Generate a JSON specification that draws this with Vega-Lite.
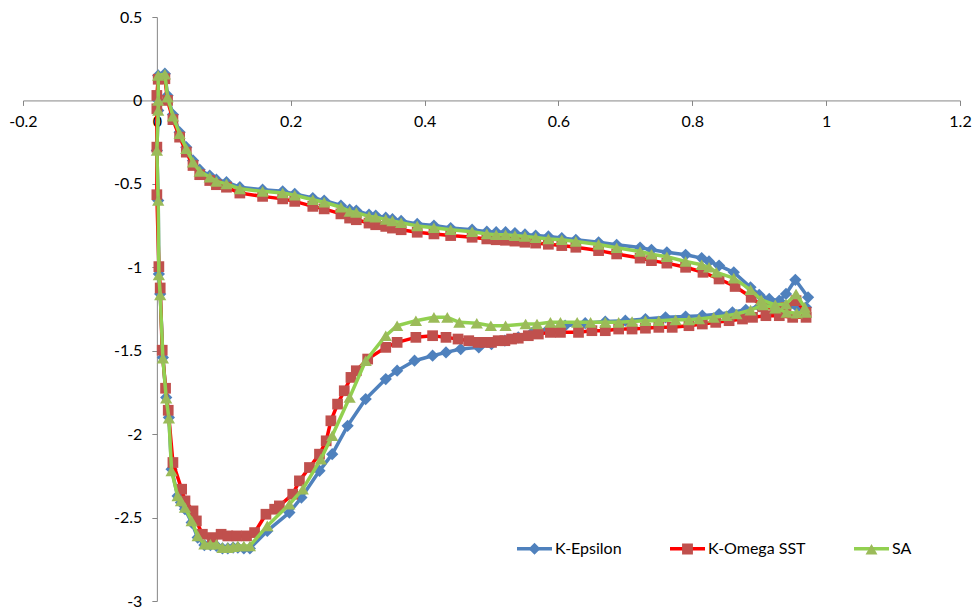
{
"$schema": "https://vega.github.io/schema/vega-lite/v6.json",
"width": 937, "height": 584,
"autosize": {"type": "none"},
"padding": {"left": 23, "top": 17, "right": 15, "bottom": 7},
"background": "white",
"config": {
  "view": {"stroke": null},
  "font": "Lato",
  "axis": {"domainColor": "#868686", "tickColor": "#868686", "domainWidth": 1, "tickWidth": 1, "tickSize": 5, "grid": false, "title": null, "labelFont": "Lato", "labelFontSize": 16, "labelColor": "#000000", "labelFlush": false, "labelOverlap": false, "labelBound": false}
},
"data": {"values": [
{"s":"KE","i":1,"x":0.973,"y":-1.18},{"s":"KE","i":2,"x":0.954,"y":-1.075},{"s":"KE","i":3,"x":0.94,"y":-1.16},{"s":"KE","i":4,"x":0.93,"y":-1.2},{"s":"KE","i":5,"x":0.915,"y":-1.19},{"s":"KE","i":6,"x":0.9,"y":-1.165},{"s":"KE","i":7,"x":0.887,"y":-1.12},{"s":"KE","i":8,"x":0.862,"y":-1.03},{"s":"KE","i":9,"x":0.84,"y":-0.99},{"s":"KE","i":10,"x":0.825,"y":-0.965},{"s":"KE","i":11,"x":0.814,"y":-0.945},{"s":"KE","i":12,"x":0.79,"y":-0.925},{"s":"KE","i":13,"x":0.762,"y":-0.91},{"s":"KE","i":14,"x":0.739,"y":-0.895},{"s":"KE","i":15,"x":0.722,"y":-0.882},{"s":"KE","i":16,"x":0.687,"y":-0.865},{"s":"KE","i":17,"x":0.66,"y":-0.85},{"s":"KE","i":18,"x":0.626,"y":-0.835},{"s":"KE","i":19,"x":0.605,"y":-0.825},{"s":"KE","i":20,"x":0.585,"y":-0.815},{"s":"KE","i":21,"x":0.566,"y":-0.81},{"s":"KE","i":22,"x":0.55,"y":-0.803},{"s":"KE","i":23,"x":0.535,"y":-0.795},{"s":"KE","i":24,"x":0.521,"y":-0.79},{"s":"KE","i":25,"x":0.507,"y":-0.79},{"s":"KE","i":26,"x":0.493,"y":-0.787},{"s":"KE","i":27,"x":0.471,"y":-0.775},{"s":"KE","i":28,"x":0.439,"y":-0.765},{"s":"KE","i":29,"x":0.414,"y":-0.75},{"s":"KE","i":30,"x":0.389,"y":-0.74},{"s":"KE","i":31,"x":0.365,"y":-0.722},{"s":"KE","i":32,"x":0.352,"y":-0.712},{"s":"KE","i":33,"x":0.342,"y":-0.703},{"s":"KE","i":34,"x":0.327,"y":-0.69},{"s":"KE","i":35,"x":0.317,"y":-0.685},{"s":"KE","i":36,"x":0.298,"y":-0.66},{"s":"KE","i":37,"x":0.288,"y":-0.655},{"s":"KE","i":38,"x":0.275,"y":-0.63},{"s":"KE","i":39,"x":0.25,"y":-0.6},{"s":"KE","i":40,"x":0.233,"y":-0.585},{"s":"KE","i":41,"x":0.206,"y":-0.56},{"s":"KE","i":42,"x":0.188,"y":-0.545},{"s":"KE","i":43,"x":0.158,"y":-0.535},{"s":"KE","i":44,"x":0.124,"y":-0.52},{"s":"KE","i":45,"x":0.104,"y":-0.49},{"s":"KE","i":46,"x":0.089,"y":-0.475},{"s":"KE","i":47,"x":0.079,"y":-0.45},{"s":"KE","i":48,"x":0.064,"y":-0.415},{"s":"KE","i":49,"x":0.054,"y":-0.36},{"s":"KE","i":50,"x":0.044,"y":-0.28},{"s":"KE","i":51,"x":0.034,"y":-0.19},{"s":"KE","i":52,"x":0.024,"y":-0.085},{"s":"KE","i":53,"x":0.016,"y":0.03},{"s":"KE","i":54,"x":0.012,"y":0.16},{"s":"KE","i":55,"x":0.002,"y":0.15},{"s":"KE","i":56,"x":0.002,"y":0.0},{"s":"KE","i":57,"x":0.002,"y":-0.06},{"s":"KE","i":58,"x":0.0,"y":-0.3},{"s":"KE","i":59,"x":0.002,"y":-0.6},{"s":"KE","i":60,"x":0.003,"y":-1.04},{"s":"KE","i":61,"x":0.005,"y":-1.16},{"s":"KE","i":62,"x":0.009,"y":-1.54},{"s":"KE","i":63,"x":0.014,"y":-1.78},{"s":"KE","i":64,"x":0.018,"y":-1.9},{"s":"KE","i":65,"x":0.022,"y":-2.21},{"s":"KE","i":66,"x":0.031,"y":-2.37},{"s":"KE","i":67,"x":0.036,"y":-2.41},{"s":"KE","i":68,"x":0.042,"y":-2.45},{"s":"KE","i":69,"x":0.052,"y":-2.53},{"s":"KE","i":70,"x":0.061,"y":-2.62},{"s":"KE","i":71,"x":0.071,"y":-2.665},{"s":"KE","i":72,"x":0.08,"y":-2.665},{"s":"KE","i":73,"x":0.089,"y":-2.67},{"s":"KE","i":74,"x":0.098,"y":-2.685},{"s":"KE","i":75,"x":0.106,"y":-2.685},{"s":"KE","i":76,"x":0.114,"y":-2.68},{"s":"KE","i":77,"x":0.121,"y":-2.68},{"s":"KE","i":78,"x":0.13,"y":-2.685},{"s":"KE","i":79,"x":0.139,"y":-2.685},{"s":"KE","i":80,"x":0.165,"y":-2.58},{"s":"KE","i":81,"x":0.198,"y":-2.47},{"s":"KE","i":82,"x":0.216,"y":-2.38},{"s":"KE","i":83,"x":0.243,"y":-2.22},{"s":"KE","i":84,"x":0.262,"y":-2.12},{"s":"KE","i":85,"x":0.285,"y":-1.95},{"s":"KE","i":86,"x":0.312,"y":-1.79},{"s":"KE","i":87,"x":0.342,"y":-1.67},{"s":"KE","i":88,"x":0.359,"y":-1.62},{"s":"KE","i":89,"x":0.385,"y":-1.56},{"s":"KE","i":90,"x":0.412,"y":-1.53},{"s":"KE","i":91,"x":0.432,"y":-1.51},{"s":"KE","i":92,"x":0.454,"y":-1.49},{"s":"KE","i":93,"x":0.481,"y":-1.48},{"s":"KE","i":94,"x":0.5,"y":-1.46},{"s":"KE","i":95,"x":0.52,"y":-1.44},{"s":"KE","i":96,"x":0.54,"y":-1.42},{"s":"KE","i":97,"x":0.56,"y":-1.395},{"s":"KE","i":98,"x":0.585,"y":-1.37},{"s":"KE","i":99,"x":0.61,"y":-1.35},{"s":"KE","i":100,"x":0.64,"y":-1.335},{"s":"KE","i":101,"x":0.67,"y":-1.325},{"s":"KE","i":102,"x":0.7,"y":-1.32},{"s":"KE","i":103,"x":0.73,"y":-1.31},{"s":"KE","i":104,"x":0.76,"y":-1.3},{"s":"KE","i":105,"x":0.79,"y":-1.295},{"s":"KE","i":106,"x":0.815,"y":-1.29},{"s":"KE","i":107,"x":0.84,"y":-1.28},{"s":"KE","i":108,"x":0.86,"y":-1.27},{"s":"KE","i":109,"x":0.88,"y":-1.255},{"s":"KE","i":110,"x":0.9,"y":-1.235},{"s":"KE","i":111,"x":0.92,"y":-1.23},{"s":"KE","i":112,"x":0.94,"y":-1.235},{"s":"KE","i":113,"x":0.957,"y":-1.24},{"s":"KE","i":114,"x":0.97,"y":-1.24},
{"s":"KO","i":1,"x":0.97,"y":-1.27},{"s":"KO","i":2,"x":0.955,"y":-1.2},{"s":"KO","i":3,"x":0.94,"y":-1.24},{"s":"KO","i":4,"x":0.925,"y":-1.25},{"s":"KO","i":5,"x":0.905,"y":-1.235},{"s":"KO","i":6,"x":0.888,"y":-1.18},{"s":"KO","i":7,"x":0.864,"y":-1.115},{"s":"KO","i":8,"x":0.84,"y":-1.07},{"s":"KO","i":9,"x":0.816,"y":-1.03},{"s":"KO","i":10,"x":0.79,"y":-1.0},{"s":"KO","i":11,"x":0.762,"y":-0.975},{"s":"KO","i":12,"x":0.739,"y":-0.96},{"s":"KO","i":13,"x":0.722,"y":-0.945},{"s":"KO","i":14,"x":0.687,"y":-0.92},{"s":"KO","i":15,"x":0.66,"y":-0.9},{"s":"KO","i":16,"x":0.626,"y":-0.88},{"s":"KO","i":17,"x":0.605,"y":-0.87},{"s":"KO","i":18,"x":0.585,"y":-0.862},{"s":"KO","i":19,"x":0.566,"y":-0.855},{"s":"KO","i":20,"x":0.55,"y":-0.85},{"s":"KO","i":21,"x":0.535,"y":-0.843},{"s":"KO","i":22,"x":0.521,"y":-0.838},{"s":"KO","i":23,"x":0.507,"y":-0.835},{"s":"KO","i":24,"x":0.493,"y":-0.83},{"s":"KO","i":25,"x":0.471,"y":-0.82},{"s":"KO","i":26,"x":0.439,"y":-0.81},{"s":"KO","i":27,"x":0.414,"y":-0.8},{"s":"KO","i":28,"x":0.389,"y":-0.79},{"s":"KO","i":29,"x":0.365,"y":-0.775},{"s":"KO","i":30,"x":0.352,"y":-0.765},{"s":"KO","i":31,"x":0.342,"y":-0.755},{"s":"KO","i":32,"x":0.327,"y":-0.745},{"s":"KO","i":33,"x":0.317,"y":-0.735},{"s":"KO","i":34,"x":0.298,"y":-0.715},{"s":"KO","i":35,"x":0.288,"y":-0.705},{"s":"KO","i":36,"x":0.275,"y":-0.68},{"s":"KO","i":37,"x":0.25,"y":-0.65},{"s":"KO","i":38,"x":0.233,"y":-0.635},{"s":"KO","i":39,"x":0.206,"y":-0.605},{"s":"KO","i":40,"x":0.188,"y":-0.59},{"s":"KO","i":41,"x":0.158,"y":-0.575},{"s":"KO","i":42,"x":0.124,"y":-0.555},{"s":"KO","i":43,"x":0.104,"y":-0.52},{"s":"KO","i":44,"x":0.089,"y":-0.505},{"s":"KO","i":45,"x":0.079,"y":-0.48},{"s":"KO","i":46,"x":0.064,"y":-0.445},{"s":"KO","i":47,"x":0.054,"y":-0.39},{"s":"KO","i":48,"x":0.044,"y":-0.31},{"s":"KO","i":49,"x":0.034,"y":-0.22},{"s":"KO","i":50,"x":0.024,"y":-0.115},{"s":"KO","i":51,"x":0.016,"y":0.0},{"s":"KO","i":52,"x":0.012,"y":0.13},{"s":"KO","i":53,"x":0.002,"y":0.127},{"s":"KO","i":54,"x":0.0,"y":0.03},{"s":"KO","i":55,"x":0.0,"y":-0.05},{"s":"KO","i":56,"x":0.0,"y":-0.28},{"s":"KO","i":57,"x":0.0,"y":-0.565},{"s":"KO","i":58,"x":0.003,"y":-0.996},{"s":"KO","i":59,"x":0.005,"y":-1.124},{"s":"KO","i":60,"x":0.008,"y":-1.497},{"s":"KO","i":61,"x":0.013,"y":-1.725},{"s":"KO","i":62,"x":0.017,"y":-1.857},{"s":"KO","i":63,"x":0.024,"y":-2.17},{"s":"KO","i":64,"x":0.037,"y":-2.33},{"s":"KO","i":65,"x":0.042,"y":-2.4},{"s":"KO","i":66,"x":0.054,"y":-2.46},{"s":"KO","i":67,"x":0.059,"y":-2.52},{"s":"KO","i":68,"x":0.068,"y":-2.6},{"s":"KO","i":69,"x":0.083,"y":-2.62},{"s":"KO","i":70,"x":0.096,"y":-2.6},{"s":"KO","i":71,"x":0.106,"y":-2.61},{"s":"KO","i":72,"x":0.119,"y":-2.61},{"s":"KO","i":73,"x":0.134,"y":-2.61},{"s":"KO","i":74,"x":0.146,"y":-2.59},{"s":"KO","i":75,"x":0.163,"y":-2.48},{"s":"KO","i":76,"x":0.176,"y":-2.45},{"s":"KO","i":77,"x":0.183,"y":-2.43},{"s":"KO","i":78,"x":0.203,"y":-2.36},{"s":"KO","i":79,"x":0.213,"y":-2.28},{"s":"KO","i":80,"x":0.228,"y":-2.2},{"s":"KO","i":81,"x":0.243,"y":-2.12},{"s":"KO","i":82,"x":0.253,"y":-2.04},{"s":"KO","i":83,"x":0.26,"y":-1.92},{"s":"KO","i":84,"x":0.27,"y":-1.82},{"s":"KO","i":85,"x":0.28,"y":-1.74},{"s":"KO","i":86,"x":0.29,"y":-1.66},{"s":"KO","i":87,"x":0.298,"y":-1.62},{"s":"KO","i":88,"x":0.315,"y":-1.55},{"s":"KO","i":89,"x":0.342,"y":-1.48},{"s":"KO","i":90,"x":0.359,"y":-1.45},{"s":"KO","i":91,"x":0.387,"y":-1.42},{"s":"KO","i":92,"x":0.412,"y":-1.41},{"s":"KO","i":93,"x":0.432,"y":-1.42},{"s":"KO","i":94,"x":0.45,"y":-1.43},{"s":"KO","i":95,"x":0.466,"y":-1.44},{"s":"KO","i":96,"x":0.48,"y":-1.45},{"s":"KO","i":97,"x":0.49,"y":-1.45},{"s":"KO","i":98,"x":0.5,"y":-1.45},{"s":"KO","i":99,"x":0.51,"y":-1.44},{"s":"KO","i":100,"x":0.52,"y":-1.44},{"s":"KO","i":101,"x":0.53,"y":-1.43},{"s":"KO","i":102,"x":0.54,"y":-1.425},{"s":"KO","i":103,"x":0.555,"y":-1.41},{"s":"KO","i":104,"x":0.57,"y":-1.4},{"s":"KO","i":105,"x":0.588,"y":-1.39},{"s":"KO","i":106,"x":0.603,"y":-1.39},{"s":"KO","i":107,"x":0.63,"y":-1.39},{"s":"KO","i":108,"x":0.65,"y":-1.38},{"s":"KO","i":109,"x":0.67,"y":-1.38},{"s":"KO","i":110,"x":0.69,"y":-1.37},{"s":"KO","i":111,"x":0.71,"y":-1.37},{"s":"KO","i":112,"x":0.73,"y":-1.365},{"s":"KO","i":113,"x":0.75,"y":-1.36},{"s":"KO","i":114,"x":0.77,"y":-1.36},{"s":"KO","i":115,"x":0.795,"y":-1.35},{"s":"KO","i":116,"x":0.815,"y":-1.34},{"s":"KO","i":117,"x":0.835,"y":-1.33},{"s":"KO","i":118,"x":0.855,"y":-1.32},{"s":"KO","i":119,"x":0.875,"y":-1.31},{"s":"KO","i":120,"x":0.89,"y":-1.3},{"s":"KO","i":121,"x":0.91,"y":-1.29},{"s":"KO","i":122,"x":0.93,"y":-1.29},{"s":"KO","i":123,"x":0.95,"y":-1.3},{"s":"KO","i":124,"x":0.97,"y":-1.3},
{"s":"SA","i":1,"x":0.968,"y":-1.24},{"s":"SA","i":2,"x":0.955,"y":-1.16},{"s":"SA","i":3,"x":0.94,"y":-1.22},{"s":"SA","i":4,"x":0.924,"y":-1.225},{"s":"SA","i":5,"x":0.903,"y":-1.195},{"s":"SA","i":6,"x":0.887,"y":-1.135},{"s":"SA","i":7,"x":0.862,"y":-1.065},{"s":"SA","i":8,"x":0.836,"y":-1.03},{"s":"SA","i":9,"x":0.825,"y":-1.0},{"s":"SA","i":10,"x":0.814,"y":-0.985},{"s":"SA","i":11,"x":0.79,"y":-0.965},{"s":"SA","i":12,"x":0.762,"y":-0.937},{"s":"SA","i":13,"x":0.739,"y":-0.922},{"s":"SA","i":14,"x":0.722,"y":-0.905},{"s":"SA","i":15,"x":0.687,"y":-0.883},{"s":"SA","i":16,"x":0.66,"y":-0.863},{"s":"SA","i":17,"x":0.626,"y":-0.845},{"s":"SA","i":18,"x":0.605,"y":-0.835},{"s":"SA","i":19,"x":0.585,"y":-0.83},{"s":"SA","i":20,"x":0.566,"y":-0.822},{"s":"SA","i":21,"x":0.55,"y":-0.815},{"s":"SA","i":22,"x":0.535,"y":-0.81},{"s":"SA","i":23,"x":0.521,"y":-0.805},{"s":"SA","i":24,"x":0.507,"y":-0.805},{"s":"SA","i":25,"x":0.493,"y":-0.8},{"s":"SA","i":26,"x":0.471,"y":-0.787},{"s":"SA","i":27,"x":0.439,"y":-0.775},{"s":"SA","i":28,"x":0.414,"y":-0.763},{"s":"SA","i":29,"x":0.389,"y":-0.752},{"s":"SA","i":30,"x":0.365,"y":-0.733},{"s":"SA","i":31,"x":0.352,"y":-0.722},{"s":"SA","i":32,"x":0.342,"y":-0.713},{"s":"SA","i":33,"x":0.327,"y":-0.7},{"s":"SA","i":34,"x":0.317,"y":-0.695},{"s":"SA","i":35,"x":0.298,"y":-0.672},{"s":"SA","i":36,"x":0.288,"y":-0.665},{"s":"SA","i":37,"x":0.275,"y":-0.64},{"s":"SA","i":38,"x":0.25,"y":-0.61},{"s":"SA","i":39,"x":0.233,"y":-0.595},{"s":"SA","i":40,"x":0.206,"y":-0.568},{"s":"SA","i":41,"x":0.188,"y":-0.555},{"s":"SA","i":42,"x":0.158,"y":-0.545},{"s":"SA","i":43,"x":0.124,"y":-0.53},{"s":"SA","i":44,"x":0.104,"y":-0.5},{"s":"SA","i":45,"x":0.089,"y":-0.485},{"s":"SA","i":46,"x":0.079,"y":-0.46},{"s":"SA","i":47,"x":0.064,"y":-0.425},{"s":"SA","i":48,"x":0.054,"y":-0.37},{"s":"SA","i":49,"x":0.044,"y":-0.29},{"s":"SA","i":50,"x":0.034,"y":-0.2},{"s":"SA","i":51,"x":0.024,"y":-0.095},{"s":"SA","i":52,"x":0.016,"y":0.02},{"s":"SA","i":53,"x":0.012,"y":0.157},{"s":"SA","i":54,"x":0.002,"y":0.15},{"s":"SA","i":55,"x":0.002,"y":0.0},{"s":"SA","i":56,"x":0.002,"y":-0.06},{"s":"SA","i":57,"x":0.0,"y":-0.3},{"s":"SA","i":58,"x":0.002,"y":-0.6},{"s":"SA","i":59,"x":0.003,"y":-1.046},{"s":"SA","i":60,"x":0.005,"y":-1.166},{"s":"SA","i":61,"x":0.009,"y":-1.545},{"s":"SA","i":62,"x":0.014,"y":-1.785},{"s":"SA","i":63,"x":0.018,"y":-1.905},{"s":"SA","i":64,"x":0.022,"y":-2.22},{"s":"SA","i":65,"x":0.031,"y":-2.37},{"s":"SA","i":66,"x":0.036,"y":-2.4},{"s":"SA","i":67,"x":0.042,"y":-2.44},{"s":"SA","i":68,"x":0.052,"y":-2.52},{"s":"SA","i":69,"x":0.061,"y":-2.61},{"s":"SA","i":70,"x":0.071,"y":-2.66},{"s":"SA","i":71,"x":0.08,"y":-2.66},{"s":"SA","i":72,"x":0.089,"y":-2.66},{"s":"SA","i":73,"x":0.098,"y":-2.68},{"s":"SA","i":74,"x":0.106,"y":-2.68},{"s":"SA","i":75,"x":0.114,"y":-2.675},{"s":"SA","i":76,"x":0.121,"y":-2.67},{"s":"SA","i":77,"x":0.13,"y":-2.67},{"s":"SA","i":78,"x":0.139,"y":-2.67},{"s":"SA","i":79,"x":0.165,"y":-2.55},{"s":"SA","i":80,"x":0.198,"y":-2.42},{"s":"SA","i":81,"x":0.218,"y":-2.33},{"s":"SA","i":82,"x":0.245,"y":-2.15},{"s":"SA","i":83,"x":0.262,"y":-2.01},{"s":"SA","i":84,"x":0.288,"y":-1.78},{"s":"SA","i":85,"x":0.312,"y":-1.56},{"s":"SA","i":86,"x":0.342,"y":-1.41},{"s":"SA","i":87,"x":0.359,"y":-1.35},{"s":"SA","i":88,"x":0.387,"y":-1.32},{"s":"SA","i":89,"x":0.414,"y":-1.3},{"s":"SA","i":90,"x":0.434,"y":-1.3},{"s":"SA","i":91,"x":0.452,"y":-1.33},{"s":"SA","i":92,"x":0.478,"y":-1.335},{"s":"SA","i":93,"x":0.499,"y":-1.35},{"s":"SA","i":94,"x":0.521,"y":-1.35},{"s":"SA","i":95,"x":0.551,"y":-1.34},{"s":"SA","i":96,"x":0.568,"y":-1.34},{"s":"SA","i":97,"x":0.588,"y":-1.33},{"s":"SA","i":98,"x":0.603,"y":-1.33},{"s":"SA","i":99,"x":0.628,"y":-1.33},{"s":"SA","i":100,"x":0.648,"y":-1.33},{"s":"SA","i":101,"x":0.67,"y":-1.33},{"s":"SA","i":102,"x":0.69,"y":-1.33},{"s":"SA","i":103,"x":0.71,"y":-1.325},{"s":"SA","i":104,"x":0.73,"y":-1.32},{"s":"SA","i":105,"x":0.75,"y":-1.32},{"s":"SA","i":106,"x":0.775,"y":-1.315},{"s":"SA","i":107,"x":0.795,"y":-1.315},{"s":"SA","i":108,"x":0.81,"y":-1.31},{"s":"SA","i":109,"x":0.832,"y":-1.3},{"s":"SA","i":110,"x":0.851,"y":-1.29},{"s":"SA","i":111,"x":0.866,"y":-1.28},{"s":"SA","i":112,"x":0.887,"y":-1.257},{"s":"SA","i":113,"x":0.906,"y":-1.226},{"s":"SA","i":114,"x":0.924,"y":-1.245},{"s":"SA","i":115,"x":0.941,"y":-1.27},{"s":"SA","i":116,"x":0.956,"y":-1.275},{"s":"SA","i":117,"x":0.97,"y":-1.27}
]},
"encoding": {
  "x": {"field": "x", "type": "quantitative", "scale": {"domain": [-0.2, 1.2], "nice": false, "zero": false},
        "axis": {"orient": "bottom", "offset": -500.57, "values": [-0.2, 0, 0.2, 0.4, 0.6, 0.8, 1, 1.2], "labelPadding": 8, "labelExpr": "datum.value < 0 ? '-' + format(-datum.value, '~g') : format(datum.value, '~g')"}},
  "y": {"field": "y", "type": "quantitative", "scale": {"domain": [-3, 0.5], "nice": false, "zero": false},
        "axis": {"orient": "left", "offset": -133.86, "values": [0.5, 0, -0.5, -1, -1.5, -2, -2.5, -3], "labelPadding": 10, "labelExpr": "datum.value < 0 ? '-' + format(-datum.value, '~g') : format(datum.value, '~g')"}},
  "order": {"field": "i", "type": "quantitative"}
},
"layer": [
  {"transform": [{"filter": "datum.s === 'KE'"}], "mark": {"type": "line", "color": "#4F81BD", "strokeWidth": 3.5, "strokeJoin": "round", "strokeCap": "round"}},
  {"transform": [{"filter": "datum.s === 'KE'"}], "mark": {"type": "point", "shape": "diamond", "filled": true, "color": "#4F81BD", "size": 150, "opacity": 1, "strokeWidth": 0}},
  {"transform": [{"filter": "datum.s === 'KO'"}], "mark": {"type": "line", "color": "#FF0000", "strokeWidth": 3.5, "strokeJoin": "round", "strokeCap": "round"}},
  {"transform": [{"filter": "datum.s === 'KO'"}], "mark": {"type": "point", "shape": "square", "filled": true, "color": "#C0504D", "size": 115, "opacity": 1, "strokeWidth": 0}},
  {"transform": [{"filter": "datum.s === 'SA'"}], "mark": {"type": "line", "color": "#92D050", "strokeWidth": 3.5, "strokeJoin": "round", "strokeCap": "round"}},
  {"transform": [{"filter": "datum.s === 'SA'"}], "mark": {"type": "point", "shape": "triangle-up", "filled": true, "color": "#9BBB59", "size": 150, "opacity": 1, "strokeWidth": 0}},
  {"data": {"values": []}, "mark": {"type": "line", "strokeWidth": 3.5},
   "encoding": {"stroke": {"field": "s", "type": "nominal",
      "scale": {"domain": ["K-Epsilon", "K-Omega SST", "SA"], "range": ["#4F81BD", "#FF0000", "#92D050"]},
      "legend": {"title": null, "orient": "none", "legendX": 492, "legendY": 512, "direction": "horizontal", "columns": 3, "padding": 0, "symbolType": "stroke", "symbolSize": 1225, "symbolStrokeWidth": 3.5, "labelFont": "Lato", "labelFontSize": 16, "labelColor": "#000000", "labelOffset": 1, "columnPadding": 41}}}},
  {"data": {"values": []}, "mark": {"type": "point", "filled": true, "opacity": 1},
   "encoding": {
     "shape": {"field": "s", "type": "nominal",
      "scale": {"domain": ["a", "b", "c"], "range": ["M-1,0L1,0M0,-0.34L0.34,0L0,0.34L-0.34,0Z", "M-1,0L1,0M-0.31,-0.31L0.31,-0.31L0.31,0.31L-0.31,0.31Z", "M-1,0L1,0M0,-0.3L0.34,0.3L-0.34,0.3Z"]},
      "legend": {"title": null, "orient": "none", "legendX": 492, "legendY": 512, "direction": "horizontal", "columns": 3, "padding": 0, "symbolSize": 1225, "symbolStrokeWidth": 3.5, "symbolStrokeColor": "transparent", "labelFont": "Lato", "labelFontSize": 16, "labelOpacity": 0, "labelOffset": 1, "columnPadding": 41, "labelExpr": "datum.label === 'a' ? 'K-Epsilon' : datum.label === 'b' ? 'K-Omega SST' : 'SA'"}},
     "fill": {"field": "s", "type": "nominal",
      "scale": {"domain": ["a", "b", "c"], "range": ["#4F81BD", "#C0504D", "#9BBB59"]},
      "legend": {"title": null, "orient": "none", "legendX": 492, "legendY": 512, "direction": "horizontal", "columns": 3, "padding": 0, "symbolSize": 1225, "symbolStrokeWidth": 3.5, "symbolStrokeColor": "transparent", "labelFont": "Lato", "labelFontSize": 16, "labelOpacity": 0, "labelOffset": 1, "columnPadding": 41, "labelExpr": "datum.label === 'a' ? 'K-Epsilon' : datum.label === 'b' ? 'K-Omega SST' : 'SA'"}}
   }}
]
}
